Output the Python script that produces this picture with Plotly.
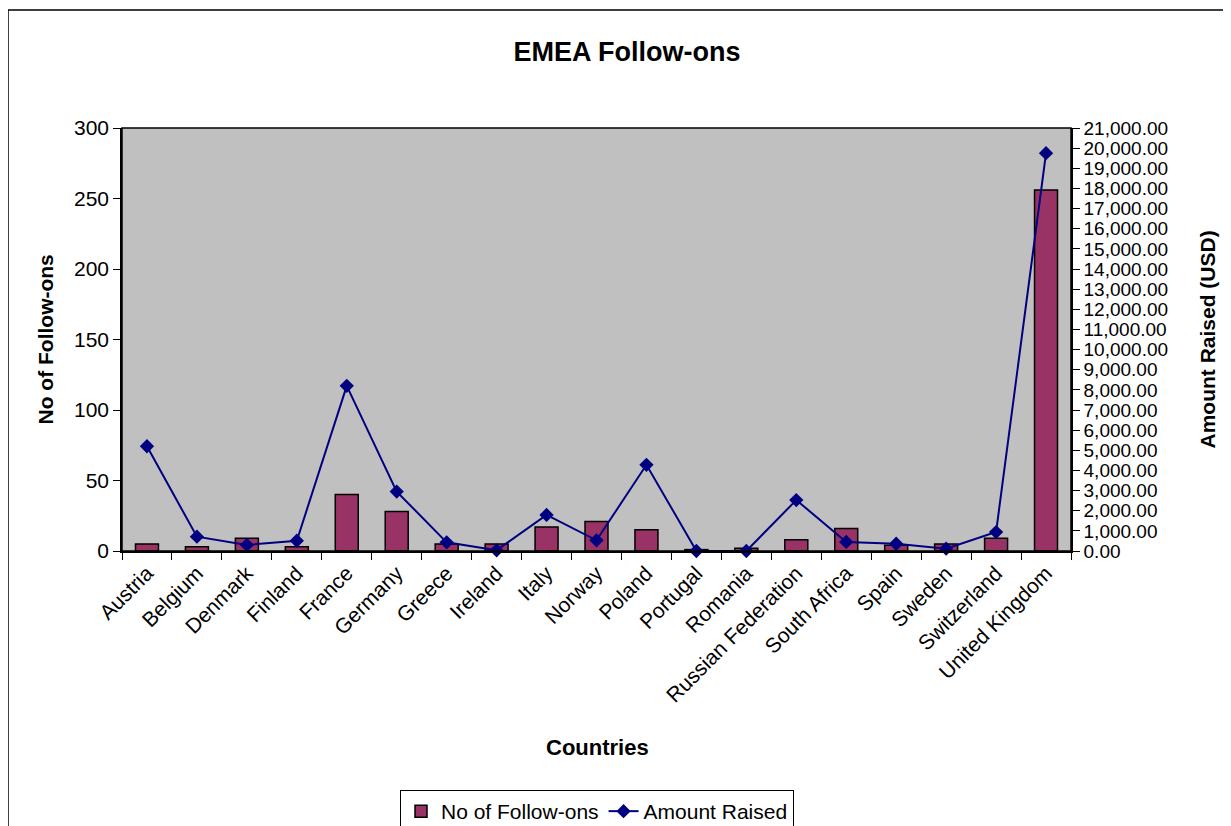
import plotly.graph_objects as go

countries = ["Austria", "Belgium", "Denmark", "Finland", "France", "Germany", "Greece",
             "Ireland", "Italy", "Norway", "Poland", "Portugal", "Romania",
             "Russian Federation", "South Africa", "Spain", "Sweden", "Switzerland",
             "United Kingdom"]
follow_ons = [5, 3, 9, 3, 40, 28, 5, 5, 17, 21, 15, 1, 2, 8, 16, 4, 5, 9, 256]
amount_raised = [5200, 710, 300, 510, 8200, 2950, 430, 35, 1790, 530, 4280, 0, 0,
                 2530, 450, 360, 115, 940, 19750]

FONT = "Liberation Sans, Arial, sans-serif"

# page body has an 8px margin; figure is sized/positioned to compensate
W, H = 1223, 818
PL, PT, PW, PH = 114, 120, 949, 423


def px(xref):  # reference x pixel -> paper x
    return (xref - 8 - PL) / PW


def py(yref):  # reference y pixel -> paper y
    return (PT + PH - (yref - 8)) / PH


fig = go.Figure()
fig.add_trace(go.Bar(
    x=countries, y=follow_ons, name="No of Follow-ons",
    marker=dict(color="#993366", line=dict(color="black", width=1.5)),
    width=0.46, yaxis="y",
))
fig.add_trace(go.Scatter(
    x=countries, y=amount_raised, name="Amount Raised", mode="lines+markers",
    line=dict(color="#000080", width=2),
    marker=dict(symbol="diamond", size=11, color="#000080"),
    yaxis="y2", cliponaxis=False,
))

fig.update_layout(
    width=W, height=H,
    margin=dict(l=PL, r=W - PL - PW, t=PT, b=H - PT - PH, autoexpand=False),
    paper_bgcolor="white", plot_bgcolor="#C0C0C0",
    font=dict(family=FONT, size=21, color="black"),
    title=dict(text="<b>EMEA Follow-ons</b>", x=(627 - 8) / W, xref="container", xanchor="center",
               y=1 - (52 - 8) / H, yref="container", yanchor="middle",
               font=dict(family=FONT, size=27, color="black")),
    xaxis=dict(type="category", range=[-0.5, len(countries) - 0.5], tickangle=-45,
               ticks="outside", tickson="boundaries",
               ticklen=7, tickcolor="black", showline=True, linecolor="black", linewidth=1.5,
               showgrid=False, tickfont=dict(size=21)),
    yaxis=dict(range=[0, 300], dtick=50, ticks="outside", ticklen=7, tickcolor="black",
               showline=True, linecolor="black", linewidth=1.5, showgrid=False,
               zeroline=False, tickfont=dict(size=21)),
    yaxis2=dict(range=[0, 21000], dtick=1000, tickformat=",.2f", overlaying="y", side="right",
                ticks="outside", ticklen=7, tickcolor="black", showline=True,
                linecolor="black", linewidth=1.5, showgrid=False, zeroline=False,
                tickfont=dict(size=19)),
    legend=dict(orientation="h", x=px(597), xanchor="center", y=py(790), yanchor="top",
                bordercolor="black", borderwidth=1, font=dict(size=21),
                bgcolor="white", traceorder="normal"),
    bargap=0.54,
    shapes=[
        dict(type="rect", xref="paper", yref="paper", x0=0, x1=1, y0=0, y1=1,
             line=dict(color="black", width=1.5), fillcolor="rgba(0,0,0,0)"),
        dict(type="rect", xref="paper", yref="paper", x0=px(8), x1=px(1245),
             y0=py(850), y1=py(10),
             line=dict(color="black", width=1.5), fillcolor="rgba(0,0,0,0)"),
    ],
    annotations=[
        dict(text="<b>No of Follow-ons</b>", xref="paper", yref="paper",
             x=px(45), y=0.5, textangle=-90, showarrow=False,
             xanchor="center", yanchor="middle", font=dict(size=21)),
        dict(text="<b>Amount Raised (USD)</b>", xref="paper", yref="paper",
             x=px(1207), y=0.5, textangle=-90, showarrow=False,
             xanchor="center", yanchor="middle", font=dict(size=21)),
        dict(text="<b>Countries</b>", xref="paper", yref="paper",
             x=px(597), y=py(747), showarrow=False,
             xanchor="center", yanchor="middle", font=dict(size=22)),
    ],
)

fig.write_html("out.html")
